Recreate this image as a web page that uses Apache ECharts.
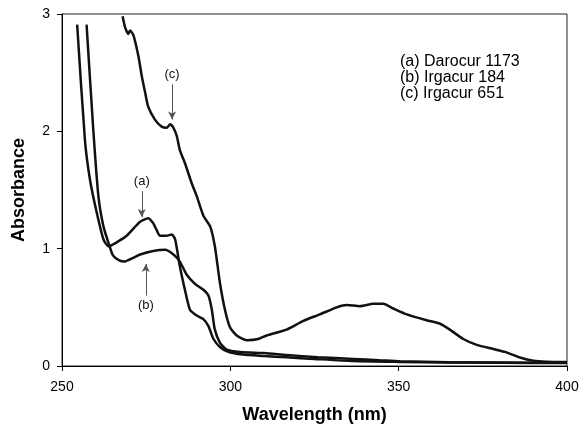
<!DOCTYPE html>
<html>
<head>
<meta charset="utf-8">
<script src="https://cdn.jsdelivr.net/npm/echarts@6/dist/echarts.min.js"></script>
<style>
  html, body { margin: 0; padding: 0; background: #fff; }
  #chart { width: 582px; height: 429px; }
</style>
</head>
<body>
<div id="chart"></div>
<script>
// wavelength (nm) and absorbance
var nmA = [254.5, 256.8, 258.3, 260.3, 262.3, 263.8, 266.0, 269.2, 271.5, 273.2, 275.6, 277.0, 278.1, 279.1, 281.0, 282.6, 283.6, 285.0, 286.5, 288.0, 290.0, 292.0, 293.5, 295.0, 297.0, 299.4, 302.9, 310, 316.7, 325, 336.5, 350, 365, 380, 400];
var absA = [2.91, 1.93, 1.59, 1.31, 1.08, 1.02, 1.05, 1.11, 1.18, 1.23, 1.26, 1.22, 1.16, 1.11, 1.11, 1.12, 1.08, 0.85, 0.65, 0.48, 0.43, 0.40, 0.34, 0.23, 0.16, 0.12, 0.10, 0.085, 0.074, 0.06, 0.042, 0.035, 0.03, 0.028, 0.025];

var nmB = [257.3, 259.3, 260.8, 262.3, 263.8, 265.2, 267.0, 268.5, 271.0, 273.2, 277.1, 280.6, 283.1, 285.0, 287.0, 289.5, 292.0, 293.5, 294.5, 295.4, 296.9, 298.9, 302.9, 310, 316.7, 326, 336.5, 344, 350.4, 365, 380, 400];
var absB = [2.91, 2.01, 1.45, 1.19, 1.05, 0.94, 0.90, 0.89, 0.92, 0.95, 0.98, 0.99, 0.95, 0.89, 0.78, 0.70, 0.65, 0.60, 0.48, 0.31, 0.20, 0.14, 0.12, 0.11, 0.094, 0.075, 0.06, 0.05, 0.04, 0.032, 0.03, 0.027];

var nmC = [268.0, 268.7, 269.7, 270.2, 271.2, 272.7, 273.7, 274.7, 275.6, 277.6, 279.6, 281.1, 282.1, 283.1, 284.1, 285.0, 286.5, 288.5, 290.0, 292.0, 294.0, 295.4, 296.9, 298.4, 299.9, 301.9, 304.9, 308.3, 310.8, 316.7, 321.7, 326.6, 331.6, 334.6, 338.5, 342.5, 345.4, 348.4, 352.4, 358.3, 362.3, 365.2, 369.2, 373.2, 378.1, 381.6, 386, 390, 394, 400];
var absC = [2.98, 2.89, 2.83, 2.86, 2.82, 2.64, 2.47, 2.33, 2.21, 2.10, 2.04, 2.03, 2.06, 2.03, 1.96, 1.84, 1.73, 1.56, 1.45, 1.28, 1.19, 1.02, 0.71, 0.48, 0.33, 0.26, 0.22, 0.23, 0.26, 0.31, 0.385, 0.44, 0.50, 0.52, 0.51, 0.53, 0.53, 0.49, 0.44, 0.39, 0.36, 0.31, 0.23, 0.18, 0.145, 0.12, 0.073, 0.045, 0.037, 0.035];

var xTicks = [250, 300, 350, 400];
var yTicks = [0, 1, 2, 3];
var legendLines = ['(a) Darocur 1173', '(b) Irgacur 184', '(c) Irgacur 651'];

function zip(xs, ys) {
  return xs.map(function (x, i) { return [x, ys[i]]; });
}

var font = '"Liberation Sans", Arial, sans-serif';

function arrow(label, x, y0, y1) {
  return {
    silent: true,
    symbol: ['none', 'arrow'],
    symbolSize: [6, 8],
    lineStyle: { color: '#555', width: 1, type: 'solid' },
    label: { show: true, position: 'start', distance: 3, formatter: label,
             color: '#111', fontSize: 13, fontFamily: font },
    data: [[{ coord: [x, y0] }, { coord: [x, y1] }]]
  };
}

function spectrum(name, xs, ys, mark) {
  return {
    name: name,
    type: 'line',
    data: zip(xs, ys),
    showSymbol: false,
    smooth: 0.2,
    clip: true,
    lineStyle: { color: '#111', width: 2.5 },
    markLine: mark
  };
}

var chart = echarts.init(document.getElementById('chart'));
chart.setOption({
  animation: false,
  backgroundColor: '#fff',
  grid: { left: 62, right: 15, top: 14, bottom: 62, show: true,
          borderColor: '#222', borderWidth: 1 },
  xAxis: {
    type: 'value', min: xTicks[0], max: xTicks[xTicks.length - 1], interval: 50,
    name: 'Wavelength (nm)', nameLocation: 'middle', nameGap: 40,
    nameTextStyle: { fontSize: 18, fontWeight: 'bold', color: '#000', fontFamily: font },
    axisLine: { lineStyle: { color: '#000', width: 1 } },
    axisTick: { show: true, length: 5, lineStyle: { color: '#000' } },
    axisLabel: { fontSize: 14, color: '#000', margin: 14, fontFamily: font },
    splitLine: { show: false }
  },
  yAxis: {
    type: 'value', min: yTicks[0], max: yTicks[yTicks.length - 1], interval: 1,
    name: 'Absorbance', nameLocation: 'middle', nameGap: 34, nameRotate: 90,
    nameTextStyle: { fontSize: 18, fontWeight: 'bold', color: '#000', fontFamily: font },
    axisLine: { show: true, lineStyle: { color: '#000', width: 1 } },
    axisTick: { show: true, length: 5, lineStyle: { color: '#000' } },
    axisLabel: { fontSize: 14, color: '#000', margin: 12, fontFamily: font },
    splitLine: { show: false }
  },
  graphic: [{
    type: 'text', left: 400, top: 54, silent: true,
    style: { text: legendLines.join('\n'), fill: '#000', fontSize: 16,
             lineHeight: 16, fontFamily: font }
  }],
  series: [
    spectrum('(a) Darocur 1173', nmA, absA, arrow('(a)', 273.7, 1.49, 1.27)),
    spectrum('(b) Irgacur 184', nmB, absB, arrow('(b)', 274.9, 0.60, 0.87)),
    spectrum('(c) Irgacur 651', nmC, absC, arrow('(c)', 282.7, 2.40, 2.10))
  ]
});
</script>
</body>
</html>
